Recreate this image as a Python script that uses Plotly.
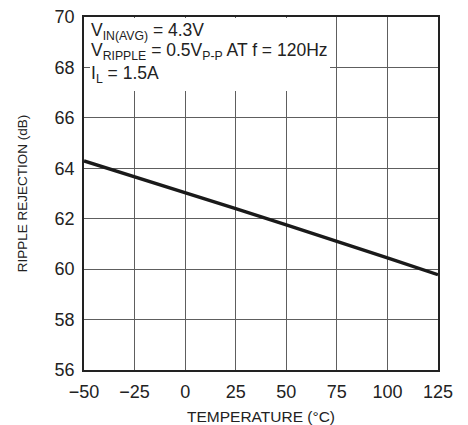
import plotly.graph_objects as go

temperature = [-50, -25, 0, 25, 50, 75, 100, 125]
ripple_rejection = [64.29, 63.67, 63.04, 62.40, 61.76, 61.12, 60.45, 59.78]

x_ticks = [-50, -25, 0, 25, 50, 75, 100, 125]
y_ticks = [56, 58, 60, 62, 64, 66, 68, 70]

cond_lines = [
    "V<sub>IN(AVG)</sub> = 4.3V",
    "V<sub>RIPPLE</sub> = 0.5V<sub>P-P</sub> AT f = 120Hz",
    "I<sub>L</sub> = 1.5A",
]

FONT = "Liberation Sans, Arial, sans-serif"
TXT = "#222222"

fig = go.Figure()
fig.add_trace(go.Scatter(
    x=temperature, y=ripple_rejection, mode="lines",
    line=dict(color="#1a1a1a", width=3.4), showlegend=False, hoverinfo="skip",
))

# white background box behind the conditions text (covers gridlines)
fig.add_annotation(text=" ", xref="paper", yref="paper", x=0.017, y=0.996,
                   xanchor="left", yanchor="top", showarrow=False,
                   width=240, height=73, bgcolor="white", borderpad=0,
                   borderwidth=0, font=dict(size=2))

ys = [0.958, 0.901, 0.838]
for t, yy in zip(cond_lines, ys):
    fig.add_annotation(text=t, xref="paper", yref="paper", x=0.013, y=yy,
                       xanchor="left", yanchor="middle", showarrow=False,
                       font=dict(family=FONT, size=17.5, color=TXT))

axis_common = dict(
    showgrid=True, gridcolor="#5e5e5e", gridwidth=1,
    showline=True, linecolor="#222", linewidth=1.6, mirror=True,
    zeroline=False, ticks="", automargin=False, ticklabeloverflow="allow",
    tickfont=dict(family=FONT, size=18, color=TXT),
)

fig.update_xaxes(range=[-50, 125], tickvals=x_ticks,
                 ticktext=[f"{v}".replace("-", "\u2212") for v in x_ticks],
                 ticklabelstandoff=5,
                 title=dict(text="TEMPERATURE (°C)", standoff=12,
                            font=dict(family=FONT, size=15.5, color=TXT)),
                 **axis_common)
fig.update_yaxes(range=[56, 70], tickvals=y_ticks,
                 ticklabelstandoff=4,
                 title=dict(text="RIPPLE REJECTION (dB)", standoff=24,
                            font=dict(family=FONT, size=13.5, color=TXT)),
                 **axis_common)

fig.update_layout(
    width=460, height=417,
    margin=dict(l=76, r=30, t=9, b=55),
    paper_bgcolor="white", plot_bgcolor="white",
)

fig.write_html("out.html")
